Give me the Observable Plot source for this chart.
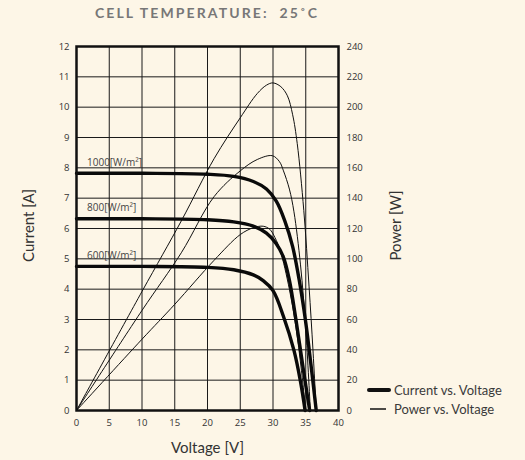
<!DOCTYPE html>
<html>
<head>
<meta charset="utf-8">
<script src="https://cdn.jsdelivr.net/npm/d3@7"></script>
<script src="https://cdn.jsdelivr.net/npm/@observablehq/plot@0.6"></script>
<style>
  html, body { margin: 0; padding: 0; background: #fdf6e7; }
  #wrap { position: relative; width: 525px; height: 460px; background: #fdf6e7; font-family: "Open Sans", sans-serif; }
  #title { height: 30px; width: 414px; text-align: center; font-family: "Lato", sans-serif; font-weight: 700; font-size: 14px; letter-spacing: 2.1px; color: #777; line-height: 26px; }
  #legend { position: absolute; left: 367px; top: 380px; font-family: "Lato", sans-serif; font-size: 13px; color: #3a3a3a; }
  #legend .row { display: flex; align-items: center; height: 19.5px; }
  #legend svg { margin-right: 3px; }
</style>
</head>
<body>
<div id="wrap">
  <div id="title">CELL TEMPERATURE:&nbsp; 25˚C</div>
  <div id="chart"></div>
  <div id="legend">
    <div class="row"><svg width="24" height="8"><line x1="2" x2="22" y1="4" y2="4" stroke="#111" stroke-width="4" stroke-linecap="round"/></svg>Current vs. Voltage</div>
    <div class="row"><svg width="24" height="8"><line x1="3" x2="19" y1="4" y2="4" stroke="#111" stroke-width="1.5"/></svg>Power vs. Voltage</div>
  </div>
</div>
<script>
// Tick values
const voltageTicks = [0, 5, 10, 15, 20, 25, 30, 35, 40];
const currentTicks = [0, 1, 2, 3, 4, 5, 6, 7, 8, 9, 10, 11, 12];
const powerTicks = [0, 20, 40, 60, 80, 100, 120, 140, 160, 180, 200, 220, 240];

// Irradiance series labels
const irradianceLabels = ["1000[W/m²]", "800[W/m²]", "600[W/m²]"];
const shortCircuitCurrent = [7.82, 6.32, 4.75];

// Current vs. voltage, [V, A]
const current1000 = [[0, 7.82], [10, 7.82], [20, 7.79], [24, 7.72], [27, 7.55], [29, 7.3], [30.5, 6.9], [31.8, 6.25], [33, 5.4], [34, 4.3], [35, 2.9], [35.8, 1.5], [36.6, 0]];
const current800 = [[0, 6.32], [10, 6.32], [20, 6.29], [24, 6.22], [27, 6.08], [29, 5.85], [30.5, 5.5], [31.6, 5.05], [32.5, 4.3], [33.5, 3.0], [34.6, 1.4], [35.6, 0]];
const current600 = [[0, 4.75], [10, 4.75], [20, 4.72], [24, 4.64], [27, 4.47], [28.5, 4.28], [30, 3.95], [31.6, 3.1], [33.2, 1.98], [34.2, 0.95], [34.9, 0]];

// Power vs. voltage, [V, W]
const power1000 = [[0, 0], [10, 78.5], [16, 125], [21, 166], [25, 193], [27.6, 209], [29, 214.5], [30, 216], [31.2, 213.5], [32.2, 207.5], [33, 195], [33.7, 176], [34.7, 132], [35.5, 82], [36.1, 40], [36.6, 0]];
const power800 = [[0, 0], [10, 66], [16, 104], [21, 141], [25, 158], [27.6, 165.5], [29.9, 168], [31, 164], [31.6, 158], [32.5, 146], [33.2, 131], [34.2, 96], [35, 54], [35.7, 0]];
const power600 = [[0, 0], [10, 47], [15, 70], [21, 99], [25, 116], [27, 120.5], [28.5, 121.5], [29.5, 119.5], [30.3, 114], [31.1, 105.5], [32.5, 80], [33.5, 55], [34.3, 28], [35, 0]];

const currentSeries = [current1000, current800, current600];
const powerSeries = [power1000, power800, power600];

const currentRows = currentSeries.flatMap((s, k) => s.map(([v, i]) => ({v, i, k})));
const powerRows = powerSeries.flatMap((s, k) => s.map(([v, p]) => ({v, p, k})));
const labelRows = irradianceLabels.map((t, k) => ({t, i: shortCircuitCurrent[k], v: 1.6}));

const P_PER_A = 240 / 12;

const chart = Plot.plot({
  width: 525,
  height: 430,
  marginTop: 16,
  marginBottom: 50,
  marginLeft: 76,
  marginRight: 187,
  style: { background: "transparent", fontFamily: "'Open Sans', sans-serif", fontSize: "9.5px", color: "#333", overflow: "visible" },
  x: { domain: [0, 40] },
  y: { domain: [0, 12] },
  marks: [
    Plot.gridX(voltageTicks, { stroke: "#1a1a1a", strokeOpacity: 1, strokeWidth: 1 }),
    Plot.gridY(currentTicks, { stroke: "#1a1a1a", strokeOpacity: 1, strokeWidth: 1 }),
    Plot.axisX({ ticks: voltageTicks, tickSize: 0, tickPadding: 9, label: null }),
    Plot.axisY({ ticks: currentTicks, tickSize: 0, tickPadding: 7, label: null }),
    Plot.axisY({ anchor: "right", ticks: powerTicks.map(p => p / P_PER_A), tickFormat: d => Math.round(d * P_PER_A), tickSize: 0, tickPadding: 8, label: null }),
    Plot.line(powerRows, { x: "v", y: d => d.p / P_PER_A, z: "k", stroke: "#111", strokeWidth: 1, curve: "catmull-rom" }),
    Plot.line(currentRows, { x: "v", y: "i", z: "k", stroke: "#0a0a0a", strokeWidth: 3.4, curve: "catmull-rom" }),
    Plot.text(labelRows, { x: "v", y: "i", text: "t", textAnchor: "start", dy: -10.5, fontSize: 10, fill: "#444" }),
    Plot.text(["Current [A]"], { x: 0, y: 6.1, text: d => d, rotate: -90, dx: -47, fontSize: 15, fill: "#333", fontFamily: "Lato, sans-serif" }),
    Plot.text(["Power [W]"], { x: 40, y: 6.1, text: d => d, rotate: -90, dx: 58, fontSize: 15, fill: "#333", fontFamily: "Lato, sans-serif" }),
    Plot.text(["Voltage [V]"], { x: 20, y: 0, text: d => d, dy: 38, fontSize: 15, fill: "#333", fontFamily: "Lato, sans-serif" }),
    Plot.frame({ stroke: "#111", strokeWidth: 2.5 })
  ]
});
document.getElementById("chart").appendChild(chart);
</script>
</body>
</html>
